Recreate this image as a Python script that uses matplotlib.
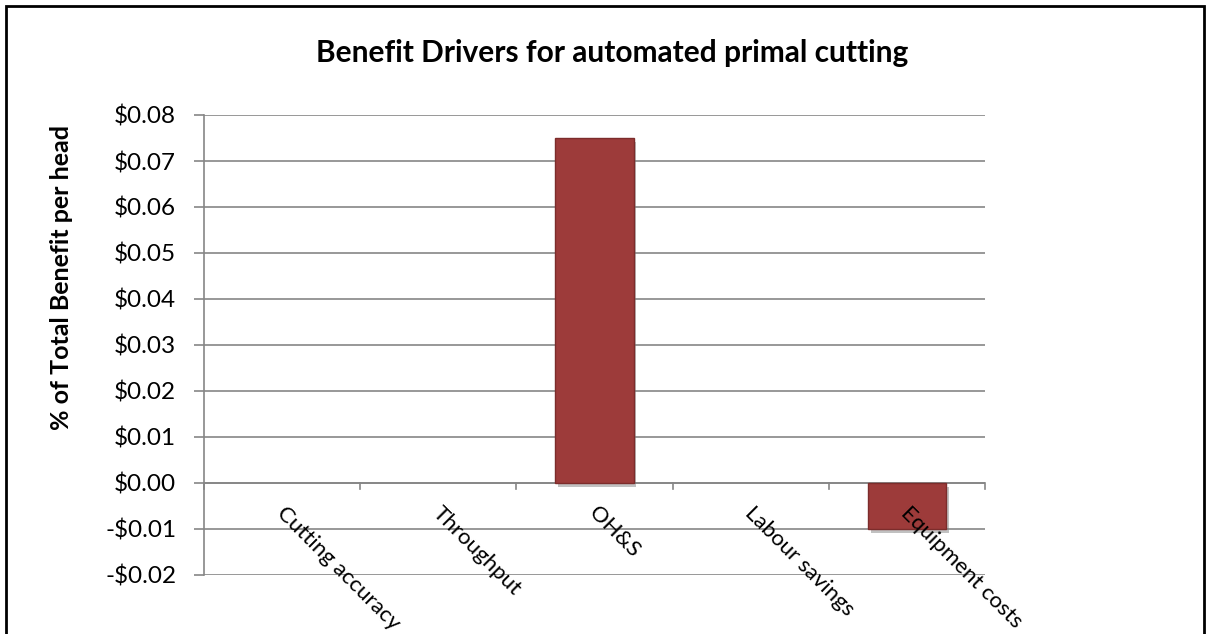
import matplotlib.pyplot as plt
import matplotlib.patheffects as pe
from matplotlib.patches import Rectangle
from matplotlib.ticker import FuncFormatter
import numpy as np

plt.rcParams['font.family'] = ['Lato', 'DejaVu Sans']

# benefit per head for each driver
categories = ['Cutting accuracy', 'Throughput', 'OH&S', 'Labour savings', 'Equipment costs']
values = [0.0, 0.0, 0.075, 0.0, -0.01]

W, H = 1210, 634
fig = plt.figure(figsize=(W / 100, H / 100), dpi=100)

# plot area in pixels: x 204..985, y 115..575
ax = fig.add_axes([204 / W, 1 - 575 / H, (985 - 204) / W, (575 - 115) / H])

x = np.arange(len(categories))
for xi, v in zip(x, values):
    if v == 0:
        continue
    b = ax.bar(xi, v, width=0.5, color='#9d3b3a', edgecolor='#7c2c2b', linewidth=1.0, zorder=3)[0]
    b.set_path_effects([pe.SimplePatchShadow(offset=(2, -3), shadow_rgbFace='#777777', alpha=0.45),
                        pe.Normal()])

ax.set_xlim(-0.5, len(categories) - 0.5)
ax.set_ylim(-0.02, 0.08)
ax.set_yticks(np.arange(-0.02, 0.0801, 0.01))
ax.yaxis.set_major_formatter(FuncFormatter(lambda v, p: ('-$%.2f' % abs(v)) if v < -1e-9 else '$%.2f' % abs(v)))
ax.grid(axis='y', color='#868686', linewidth=1.2, zorder=0)

for s in ['top', 'right', 'bottom']:
    ax.spines[s].set_visible(False)
ax.spines['left'].set_color('#868686')
ax.spines['left'].set_linewidth(1.2)

ax.tick_params(axis='y', length=7, color='#868686', width=1.2, labelsize=17.5, pad=13)
ax.set_xticks([])

# category axis sits on zero, with tick marks between categories
ax.axhline(0, color='#868686', linewidth=1.2, zorder=2)
for xb in np.arange(-0.5, len(categories), 1.0):
    ax.plot([xb, xb], [0, -0.0013], color='#868686', linewidth=1.2, clip_on=False, zorder=2)

for xi, lab in zip(x, categories):
    ax.text(xi + 0.03, -0.0043, lab, rotation=-45, rotation_mode='anchor',
            ha='left', va='top', fontsize=16, transform=ax.transData, clip_on=False)

fig.text(612 / W, 1 - 53 / H, 'Benefit Drivers for automated primal cutting',
         ha='center', va='center', fontsize=21.5, fontweight='bold')
fig.text(62 / W, 1 - 278 / H, '% of Total Benefit per head', rotation=90,
         ha='center', va='center', fontsize=18, fontweight='bold')

# chart frame
fig.patches.append(Rectangle((6 / W, -0.02), (1204 - 6) / W, 1 - 6 / H + 0.02,
                             transform=fig.transFigure, fill=False, edgecolor='black',
                             linewidth=2.0))

fig.savefig('out.png', dpi=100)
